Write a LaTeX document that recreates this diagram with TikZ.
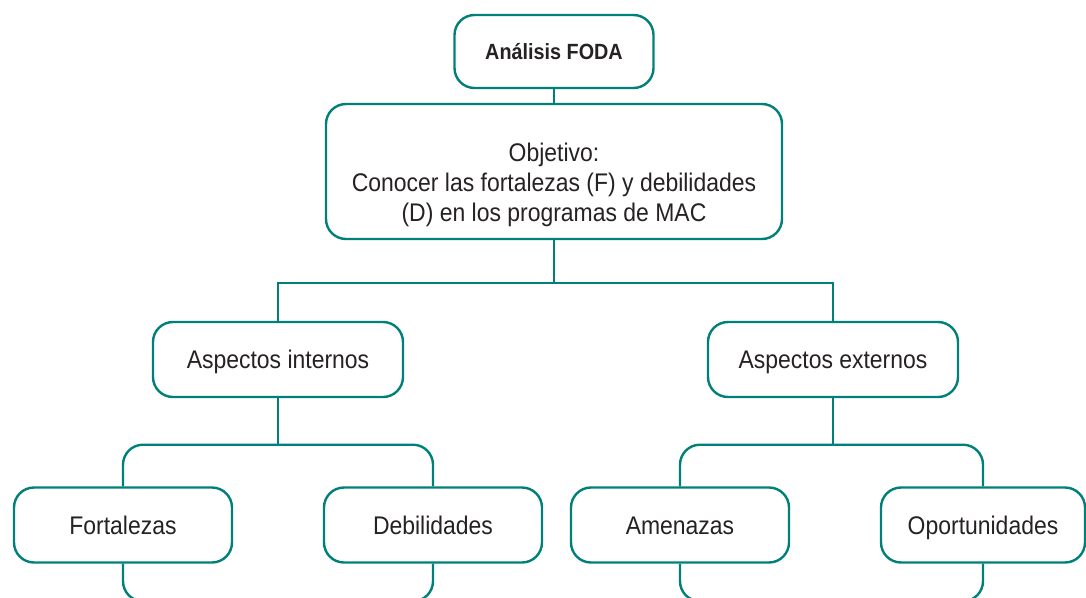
\documentclass[tikz,border=0pt]{standalone}
\usepackage{fontspec}
\setmainfont{Liberation Sans}[FakeStretch=0.9]
\usepackage{tikz}
\usetikzlibrary{positioning}
\definecolor{foda}{RGB}{0,128,120}
\definecolor{texto}{RGB}{38,34,35}
\tikzset{caja/.style={draw=foda,line width=2.4pt,rounded corners=20pt,fill=white,
    text=texto,align=center,inner sep=0pt}}
\tikzset{linea/.style={caja,text height=18.3pt,text depth=0pt}}
\tikzset{rama/.style={draw=foda,line width=2.4pt}}
\tikzset{rama curva/.style={rama,rounded corners=20pt}}

\begin{document}
\begin{tikzpicture}[x=1pt,y=-1pt,node distance=100pt,on grid,
    font=\fontsize{25.5}{30}\selectfont]
        \useasboundingbox (0,0) rectangle (1086,597);
        \clip (0,0) rectangle (1086,597);
        \node(foda)[linea,text height=15.8pt,minimum width=199pt,minimum height=73pt,
            font=\fontsize{22}{26}\selectfont\bfseries] at (554,51.5) {Análisis FODA};
        \node(obj)[caja,minimum width=456pt,minimum height=135pt,below=120pt of foda]{};
        \node(objtxt)[text=texto,align=center,inner sep=0pt,yshift=-13pt] at (obj)
            {Objetivo:\\Conocer las fortalezas (F) y debilidades\\(D) en los programas de MAC};
        \node(aint)[linea,minimum width=250pt,minimum height=75pt,below left=188pt and 276pt of obj]
            {Aspectos internos};
        \node(aext)[linea,minimum width=250pt,minimum height=75pt,below right=188pt and 279pt of obj]
            {Aspectos externos};
        \node(fort)[linea,minimum width=218pt,minimum height=75pt,below left=165.5pt and 155pt of aint]
            {Fortalezas};
        \node(deb)[linea,minimum width=218pt,minimum height=75pt,below right=165.5pt and 155pt of aint]
            {Debilidades};
        \node(amen)[linea,minimum width=218pt,minimum height=75pt,below left=165.5pt and 153pt of aext]
            {Amenazas};
        \node(opor)[linea,minimum width=204pt,minimum height=75pt,below right=165.5pt and 150pt of aext]
            {Oportunidades};
        % conectores
        \draw[rama] (foda) -- (obj);
        \draw[rama] (obj.south) -- ++(0,43) coordinate(obj-split);
        \draw[rama] (aint.north) |- (obj-split) -| (aext.north);
        \draw[rama] (aint.south) -- ++(0,46.5) coordinate(aint-split);
        \draw[rama curva] (fort.north) |- (aint-split) -| (deb.north);
        \draw[rama] (aext.south) -- ++(0,46.5) coordinate(aext-split);
        \draw[rama curva] (amen.north) |- (aext-split) -| (opor.north);
        % ramas que siguen abajo
        \draw[rama curva] (fort.south) |- ++(40,37.5);
        \draw[rama curva] (deb.south) |- ++(-40,37.5);
        \draw[rama curva] (amen.south) |- ++(40,37.5);
        \draw[rama curva] (opor.south) |- ++(-40,37.5);
      \end{tikzpicture}
\end{document}
